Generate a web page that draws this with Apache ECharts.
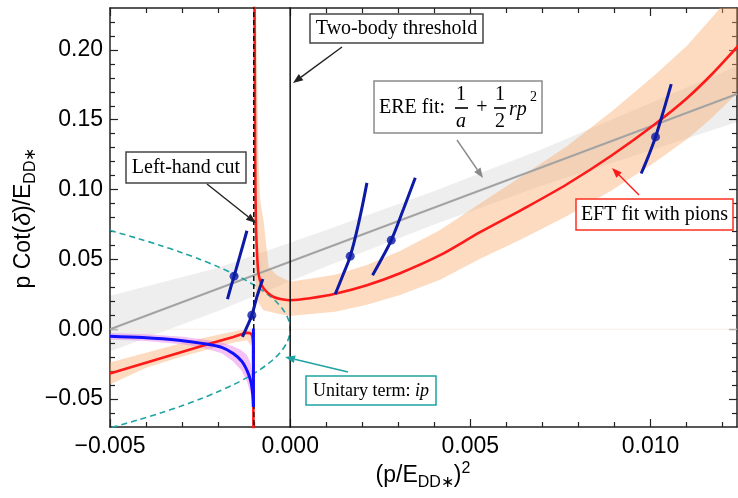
<!DOCTYPE html>
<html>
<head>
<meta charset="utf-8">
<script src="https://cdn.jsdelivr.net/npm/echarts@6/dist/echarts.min.js"></script>
<style>
  html, body { margin: 0; padding: 0; background: #fff; }
  #chart { width: 738px; height: 498px; }
</style>
</head>
<body>
<div id="chart"></div>
<script>
// ---- axes ----
const xRange = [-0.005, 0.0124];
const yRange = [-0.07, 0.23];
const xMajorTicks = [-0.005, 0, 0.005, 0.010];
const xTickLabels = ['\u22120.005', '0.000', '0.005', '0.010'];
const xMinorTicks = [-0.004, -0.003, -0.002, -0.001, 0.001, 0.002, 0.003, 0.004,
                     0.006, 0.007, 0.008, 0.009, 0.011, 0.012];
const yMajorTicks = [-0.05, 0, 0.05, 0.10, 0.15, 0.20];
const yTickLabels = ['\u22120.05', '0.00', '0.05', '0.10', '0.15', '0.20'];
const yMinorTicks = [-0.06, -0.04, -0.03, -0.02, -0.01, 0.01, 0.02, 0.03, 0.04,
                     0.06, 0.07, 0.08, 0.09, 0.11, 0.12, 0.13, 0.14, 0.16, 0.17,
                     0.18, 0.19, 0.21, 0.22];

// ---- special positions in (p/E)^2 ----
const leftHandCut = -0.00101;
const twoBodyThreshold = 0;

// ---- ERE fit: straight line and its error band ----
const ereLine = [[-0.005, 0.0], [0.0124, 0.1684]];
const ereBandUpper = [[-0.005, 0.024], [-0.002, 0.044], [0.001, 0.071], [0.004, 0.099],
                      [0.007, 0.129], [0.010, 0.162], [0.0124, 0.1884]];
const ereBandLower = [[-0.005, -0.016], [-0.002, 0.013], [0.001, 0.045], [0.004, 0.075],
                      [0.007, 0.103], [0.010, 0.128], [0.0124, 0.1484]];

// ---- EFT fit with pions: branch right of the cut ----
const eftRight = [[-0.00099, 0.235], [-0.00097, 0.12], [-0.00095, 0.075], [-0.00092, 0.055],
                  [-0.00088, 0.040], [-0.00079, 0.0315], [-0.00065, 0.0267], [-0.00046, 0.0231],
                  [-0.00023, 0.0215], [0, 0.0208], [0.00055, 0.0222], [0.00125, 0.0254],
                  [0.00213, 0.0315], [0.00305, 0.0401], [0.00416, 0.0530], [0.00527, 0.0695],
                  [0.00646, 0.0860], [0.00768, 0.1038], [0.00893, 0.1246], [0.01012, 0.1468],
                  [0.01101, 0.1654], [0.01173, 0.1833], [0.01240, 0.2019], [0.0126, 0.207]];
const eftRightBandUpper = [[-0.00095, 0.235], [-0.00088, 0.12], [-0.00083, 0.092],
                           [-0.00074, 0.078], [-0.00060, 0.0446], [-0.00037, 0.0387],
                           [0, 0.034], [0.00125, 0.039], [0.00213, 0.046], [0.00305, 0.056],
                           [0.00416, 0.071], [0.00527, 0.090], [0.00646, 0.110], [0.00768, 0.131],
                           [0.00893, 0.156], [0.01012, 0.182], [0.01101, 0.203], [0.01173, 0.224],
                           [0.01240, 0.245], [0.0126, 0.252]];
const eftRightBandLower = [[-0.00100, 0.235], [-0.00099, 0.07], [-0.00097, 0.04],
                           [-0.00093, 0.0208], [-0.00074, 0.0136], [-0.00037, 0.0112],
                           [0, 0.0095], [0.00125, 0.0125], [0.00213, 0.0175], [0.00305, 0.0245],
                           [0.00416, 0.0355], [0.00527, 0.0505], [0.00646, 0.065], [0.00768, 0.081],
                           [0.00893, 0.0995], [0.01012, 0.1195], [0.01101, 0.136], [0.01173, 0.152],
                           [0.01240, 0.169], [0.0126, 0.174]];

// ---- EFT fit with pions: branch left of the cut ----
const eftLeft = [[-0.005, -0.0317], [-0.004075, -0.0246], [-0.003147, -0.0174],
                 [-0.002222, -0.0103], [-0.001575, -0.0055], [-0.0012, -0.0026],
                 [-0.00109, -0.0031], [-0.00104, -0.0067], [-0.00102, -0.015],
                 [-0.00102, -0.075]];
const eftLeftBandUpper = [[-0.005, -0.0238], [-0.004, -0.0168], [-0.003, -0.0098],
                          [-0.002, -0.0040], [-0.0015, -0.0012], [-0.0012, 0.0004],
                          [-0.00108, 0.0004], [-0.00104, -0.004], [-0.00102, -0.03],
                          [-0.00101, -0.075]];
const eftLeftBandLower = [[-0.005, -0.0395], [-0.004, -0.0275], [-0.003, -0.0195],
                          [-0.002, -0.0125], [-0.0015, -0.0092], [-0.0012, -0.0078],
                          [-0.00108, -0.012], [-0.00105, -0.075]];

// ---- blue curve below threshold with its band ----
const blueCurve = [[-0.005, -0.0050], [-0.0041, -0.0060], [-0.0031, -0.0079], [-0.0024, -0.0103],
                   [-0.0019, -0.0130], [-0.00158, -0.0174], [-0.00134, -0.0230], [-0.00119, -0.0300],
                   [-0.00109, -0.0375], [-0.00105, -0.0440], [-0.00103, -0.0500], [-0.00102, -0.0557]];
const blueVertical = [[-0.00102, 0.0005], [-0.00102, -0.0557]];
const blueBandUpper = [[-0.005, -0.0027], [-0.004, -0.0036], [-0.003, -0.0054], [-0.0024, -0.0073],
                       [-0.0019, -0.0095], [-0.0016, -0.0120], [-0.00135, -0.0150], [-0.0012, -0.0185],
                       [-0.0011, -0.0240], [-0.00104, -0.0340], [-0.00101, -0.0550]];
const blueBandLower = [[-0.005, -0.0073], [-0.004, -0.0085], [-0.003, -0.0107], [-0.0024, -0.0135],
                       [-0.0019, -0.0172], [-0.0016, -0.0228], [-0.00135, -0.0295], [-0.0012, -0.0375],
                       [-0.0011, -0.0455], [-0.00104, -0.0520], [-0.00102, -0.0560]];

// ---- unitary term ip (p^2 < 0) ----
const unitaryCurve = [[-0.005, 0.0707], [-0.004225, 0.065], [-0.0036, 0.060], [-0.003025, 0.055],
                      [-0.0025, 0.050], [-0.002025, 0.045], [-0.0016, 0.040], [-0.001225, 0.035],
                      [-0.0009, 0.030], [-0.000625, 0.025], [-0.0004, 0.020], [-0.000225, 0.015],
                      [-0.0001, 0.010], [-0.000025, 0.005], [0, 0], [-0.000025, -0.005],
                      [-0.0001, -0.010], [-0.000225, -0.015], [-0.0004, -0.020], [-0.000625, -0.025],
                      [-0.0009, -0.030], [-0.001225, -0.035], [-0.0016, -0.040], [-0.002025, -0.045],
                      [-0.0025, -0.050], [-0.003025, -0.055], [-0.0036, -0.060], [-0.004225, -0.065],
                      [-0.005, -0.0707]];

// ---- lattice levels: central points and their uncertainty curves ----
const levelPoints = [[-0.001556, 0.0380], [-0.001064, 0.0100], [0.001667, 0.0523],
                     [0.002806, 0.0638], [0.010139, 0.1377]];
const levelBar1 = [[-0.00174, 0.0215], [-0.00165, 0.0299], [-0.001556, 0.0380], [-0.00139, 0.0530], [-0.00120, 0.0705]];
const levelBar2 = [[-0.001325, -0.0055], [-0.0012, 0.0017], [-0.001064, 0.0100], [-0.000925, 0.0231], [-0.000758, 0.0360]];
const levelBar3 = [[0.00125, 0.0251], [0.00146, 0.0385], [0.001667, 0.0523], [0.00190, 0.0760], [0.00213, 0.1048]];
const levelBar4 = [[0.002286, 0.0387], [0.00255, 0.0510], [0.002806, 0.0638], [0.00315, 0.0865], [0.003472, 0.1084]];
const levelBar5 = [[0.009741, 0.1115], [0.00995, 0.1245], [0.010139, 0.1377], [0.010325, 0.1533], [0.010575, 0.1755]];

// ---- styling ----
const C = {
  frame: '#222', red: '#ff1a1a', peach: 'rgba(248,170,105,0.42)', pink: 'rgba(230,120,230,0.45)',
  grayBand: 'rgba(0,0,0,0.065)', grayLine: '#a3a3a3', blue: '#1010ff', navy: '#0c1aa6',
  teal: '#1fa3a3', black: '#111'
};
const SANS = '"Liberation Sans", Arial, Helvetica, sans-serif';
const SERIF = '"Liberation Serif", "Times New Roman", serif';

const chart = echarts.init(document.getElementById('chart'), null, { renderer: 'canvas' });

function tickText(values, labels) {
  return function (v) {
    for (let i = 0; i < values.length; i++) if (Math.abs(values[i] - v) < 1e-9) return labels[i];
    return '';
  };
}

function axis(dim, position, values, len, withLine, withLabels) {
  const range = dim === 'x' ? xRange : yRange;
  const a = {
    type: 'value', min: range[0], max: range[1], position: position,
    axisLine: { show: withLine, onZero: false, lineStyle: { color: C.frame, width: 1.5 } },
    axisTick: { show: true, inside: true, length: len, customValues: values,
                lineStyle: { color: C.frame, width: 1.2 } },
    axisLabel: { show: withLabels },
    splitLine: { show: false }, minorTick: { show: false }
  };
  if (withLabels) {
    const labels = dim === 'x' ? xTickLabels : yTickLabels;
    a.axisLabel = {
      show: true, customValues: values, formatter: tickText(values, labels),
      fontFamily: SANS, fontSize: 23, color: '#000', margin: dim === 'x' ? 8 : 7,
      showMinLabel: true, showMaxLabel: true, hideOverlap: false
    };
  }
  return a;
}

function band(edgeA, edgeB, fill, z) {
  const pts = edgeA.concat(edgeB.slice().reverse());
  return {
    type: 'custom', xAxisIndex: 0, yAxisIndex: 0, z: z, silent: true, clip: true,
    data: [[0, 0]],
    renderItem: function (params, api) {
      return { type: 'polygon', shape: { points: pts.map(function (p) { return api.coord(p); }) },
               style: { fill: fill } };
    }
  };
}

function curve(data, color, width, z, extra) {
  return Object.assign({
    type: 'line', xAxisIndex: 0, yAxisIndex: 0, data: data, showSymbol: false, symbol: 'none',
    z: z, silent: true, clip: true,
    lineStyle: { color: color, width: width }
  }, extra || {});
}

const series = [
  band(ereBandUpper, ereBandLower, C.grayBand, 1),
  band(eftRightBandUpper, eftRightBandLower, C.peach, 2),
  band(eftLeftBandUpper, eftLeftBandLower, C.peach, 2),
  band(blueBandUpper, blueBandLower, C.pink, 2),
  curve([[xRange[0], 0], [xRange[1], 0]], '#f4efeb', 1, 2),
  curve(ereLine, C.grayLine, 2, 3),
  curve(unitaryCurve, C.teal, 1.6, 4, { smooth: 0.3, lineStyle: { color: C.teal, width: 1.6, type: [6, 4] } }),
  curve(eftRight, C.red, 2.6, 5, { smooth: 0.3 }),
  curve(eftLeft, C.red, 2.6, 5, { smooth: 0.2 }),
  curve([[twoBodyThreshold, -0.08], [twoBodyThreshold, 0.24]], C.black, 1.5, 6),
  curve([[leftHandCut, -0.08], [leftHandCut, 0.24]], C.black, 1.5, 6,
        { lineStyle: { color: C.black, width: 1.5, type: [5, 3] } }),
  curve(blueCurve, C.blue, 3, 7, { smooth: 0.3 }),
  curve(blueVertical, C.blue, 3, 7),
  curve(levelBar1, C.navy, 3, 8, { smooth: 0.4 }),
  curve(levelBar2, C.navy, 3, 8, { smooth: 0.4 }),
  curve(levelBar3, C.navy, 3, 8, { smooth: 0.4 }),
  curve(levelBar4, C.navy, 3, 8, { smooth: 0.4 }),
  curve(levelBar5, C.navy, 3, 8, { smooth: 0.4 }),
  {
    type: 'scatter', xAxisIndex: 0, yAxisIndex: 0, data: levelPoints, symbol: 'circle',
    symbolSize: 9, itemStyle: { color: C.navy }, z: 9, silent: true
  }
];

// ---- annotation boxes, arrows and axis titles (pixel layout) ----
function arrow(x1, y1, x2, y2, color, width) {
  const dx = x2 - x1, dy = y2 - y1, L = Math.sqrt(dx * dx + dy * dy);
  const ux = dx / L, uy = dy / L, hl = 10, hw = 3.8;
  const bx = x2 - ux * hl, by = y2 - uy * hl;
  return [
    { type: 'line', z: 100, shape: { x1: x1, y1: y1, x2: bx, y2: by },
      style: { stroke: color, lineWidth: width } },
    { type: 'polygon', z: 100,
      shape: { points: [[x2, y2], [bx - uy * hw, by + ux * hw], [bx + uy * hw, by - ux * hw]] },
      style: { fill: color } }
  ];
}
function box(x, y, w, h, stroke) {
  return { type: 'rect', z: 100, shape: { x: x, y: y, width: w, height: h },
           style: { fill: '#fff', stroke: stroke, lineWidth: 1.5 } };
}
function label(text, x, y, size, opts) {
  return { type: 'text', z: 101, x: x, y: y,
           style: Object.assign({ text: text, font: size + 'px ' + SERIF, fill: '#000',
                                  textAlign: 'center', textVerticalAlign: 'middle' }, opts || {}) };
}
function fracBar(x1, x2, y) {
  return { type: 'line', z: 101, shape: { x1: x1, y1: y, x2: x2, y2: y },
           style: { stroke: '#000', lineWidth: 1.6 } };
}

const graphics = [].concat(
  arrow(342, 47, 293, 83, '#222', 1.4),
  [box(310, 14, 173, 29, '#444'), label('Two-body threshold', 396.5, 29, 20)],
  arrow(207, 184, 256, 223, '#222', 1.4),
  [box(126, 152, 120, 31, '#444'), label('Left-hand cut', 186, 168, 20)],
  arrow(457, 140, 483, 178, '#8a8a8a', 1.4),
  [box(374, 81, 168, 52, '#8a8a8a'),
   label('ERE fit:', 379, 108, 20, { textAlign: 'left' }),
   label('1', 461, 95, 20), fracBar(455, 468, 108), label('a', 461, 122, 20, { font: 'italic 20px ' + SERIF }),
   label('+', 482, 108, 20),
   label('1', 500, 95, 20), fracBar(494, 506, 108), label('2', 500, 122, 20),
   label('rp', 509, 110, 20, { textAlign: 'left', font: 'italic 20px ' + SERIF }),
   label('2', 530, 97, 14, { textAlign: 'left' })],
  arrow(639, 195, 612, 168, C.red, 1.4),
  [box(576, 199, 157, 31, '#ff3020'), label('EFT fit with pions', 654.5, 215, 20)],
  arrow(348, 372, 285, 357, C.teal, 1.6),
  [box(306, 376, 130, 29, C.teal),
   label('{n|Unitary term: }{i|ip}', 371, 391, 18,
         { rich: { n: { font: '18px ' + SERIF }, i: { font: 'italic 18px ' + SERIF } } })],
  [
    { type: 'text', z: 101, x: 423, y: 476,
      style: { text: '{n|(p/E}{s|DD\u2217}{n|)}{p|2}', textAlign: 'center', textVerticalAlign: 'middle', fill: '#000',
               rich: { n: { fontFamily: SANS, fontSize: 23, lineHeight: 30, verticalAlign: 'middle' },
                       s: { fontFamily: SANS, fontSize: 16, lineHeight: 16, verticalAlign: 'bottom' },
                       p: { fontFamily: SANS, fontSize: 16, lineHeight: 16, verticalAlign: 'top' } } } },
    { type: 'text', z: 101, x: 24, y: 218, rotation: Math.PI / 2,
      style: { text: '{n|p Cot(}{i|\u03b4}{n|)/E}{s|DD\u2217}', textAlign: 'center', textVerticalAlign: 'middle', fill: '#000',
               rich: { n: { fontFamily: SANS, fontSize: 23, lineHeight: 30, verticalAlign: 'middle' },
                       i: { fontFamily: SANS, fontStyle: 'italic', fontSize: 23, lineHeight: 30, verticalAlign: 'middle' },
                       s: { fontFamily: SANS, fontSize: 16, lineHeight: 16, verticalAlign: 'bottom' } } } }
  ]
);

chart.setOption({
  animation: false,
  backgroundColor: '#fff',
  grid: { left: 110, top: 8, right: 1, bottom: 71, containLabel: false, outerBoundsMode: 'none' },
  xAxis: [
    axis('x', 'bottom', xMajorTicks, 8, true, true),
    axis('x', 'bottom', xMinorTicks, 5, false, false),
    axis('x', 'top', xMajorTicks, 8, true, false),
    axis('x', 'top', xMinorTicks, 5, false, false)
  ],
  yAxis: [
    axis('y', 'left', yMajorTicks, 8, true, true),
    axis('y', 'left', yMinorTicks, 5, false, false),
    axis('y', 'right', yMajorTicks, 8, true, false),
    axis('y', 'right', yMinorTicks, 5, false, false)
  ],
  series: series,
  graphic: { elements: graphics }
});
</script>
</body>
</html>
